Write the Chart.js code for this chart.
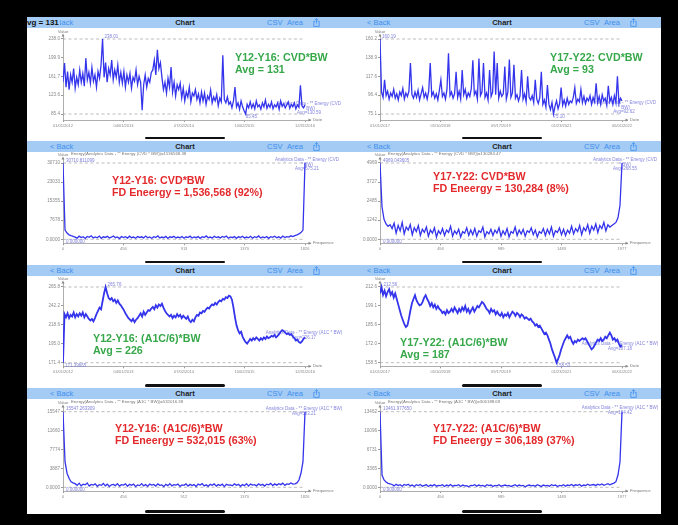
<!DOCTYPE html>
<html>
<head>
<meta charset="utf-8">
<script src="https://cdn.jsdelivr.net/npm/chart.js@4.4.1/dist/chart.umd.min.js"></script>
<style>
  body { margin: 0; width: 678px; height: 525px; background: #000; position: relative; overflow: hidden;
         font-family: "Liberation Sans", Arial, sans-serif; }
  #sheet { position: absolute; left: 27px; top: 17px; width: 634px; height: 497px; background: #fff; }
  .bar { position: absolute; left: 27px; width: 634px; height: 11px; background: #a3cbf3; }
  .bar span { position: absolute; top: 0; line-height: 11px; font-size: 7.5px; color: #3f8ff0; white-space: nowrap; }
  .bar span.ttl { color: #1d1d1d; font-weight: bold; transform: translateX(-50%); }
  .bar svg { position: absolute; top: 1px; }
  #cut { position: absolute; left: 27px; top: 17px; height: 11px; line-height: 11px; padding-right: 1px;
         background: #a3cbf3; font-size: 8px; font-weight: bold; color: #111; }
  .note { position: absolute; font-size: 10.7px; font-weight: bold; line-height: 12.3px; white-space: nowrap; }
  .home { position: absolute; width: 80px; height: 2.5px; border-radius: 2px; background: #111; }
  canvas { position: absolute; }
</style>
</head>
<body>
<div id="sheet"></div>
<div id="cut">vg = 131</div>
<script>
// ---------- tick labels ----------
const dates12 = ['01/01/2012', '04/01/2013', '07/02/2014', '10/02/2015', '12/31/2016'];
const dates17 = ['01/01/2017', '05/10/2018', '09/17/2019', '01/23/2021', '06/01/2022'];
const freq12a = ['0', '456', '913', '1370', '1826'];
const freq12b = ['0', '456', '912', '1370', '1826'];
const freq17 = ['0', '494', '989', '1483', '1977'];

const cvd12Ticks = ['238.0', '199.9', '161.7', '123.6', '85.4'];
const cvd17Ticks = ['160.2', '138.9', '117.6', '96.4', '75.1'];
const fdCvd12Ticks = ['30710', '23033', '15355', '7678', '0.0000'];
const fdCvd17Ticks = ['4969', '3727', '2485', '1242', '0.0000'];
const a1c12Ticks = ['265.8', '242.2', '218.6', '195.0', '171.4'];
const a1c17Ticks = ['212.6', '199.1', '185.6', '172.0', '158.5'];
const fdA1c12Ticks = ['15547', '11660', '7774', '3887', '0.0000'];
const fdA1c17Ticks = ['13462', '10096', '6731', '3365', '0.0000'];

// ---------- series ----------
const cvd12 = [150,189,140,172,135,165,150,178,138,160,
  145,175,150,168,142,199,155,170,148,180,152,165,140,172,158,
  185,238.01,160,190,150,178,165,195,155,175,160,185,150,170,
  148,172,140,165,150,168,138,160,152,175,145,162,150,
  93,
  145,165,140,158,150,170,
  175,195,165,216,178,190,
  160,135,150,128,158,140,181,130,150,122,145,135,148,
  118,138,112,130,120,140,110,128,122,135,115,126,108,130,
  112,128,105,122,115,134,108,120,112,125,102,118,110,205,115,108,120,105,
  110,98,112,140,100,108,95,112,100,92,85.45,105,98,
  110,98,106,96,112,100,104,95,108,100,114,97,105,99,110,96,104,100,108,95,
  112,101,106,98,104,110,97,105,100,108,96,104,99,144,102,98,104];

const cvd17 = [160.19,100,94,114,96,101,92,99,95,103,
  93,98,91,100,96,104,92,99,95,101,
  133,97,93,100,94,102,91,98,105,94,
  99,92,101,133,96,100,93,98,91,102,
  114,95,99,92,103,144,96,100,93,98,
  123,94,101,92,125,97,103,93,99,95,
  104,136,97,101,92,138,96,100,133,94,
  99,91,125,95,100,146,97,133,93,101,
  95,98,129,92,100,137,94,99,131,93,
  97,90,96,125,92,98,89,118,94,91,
  96,88,114,92,87,94,123,86,91,83,
  108,86,80,88,75.1,84,90,81,87,105,
  85,91,84,93,86,90,88,94,105,87,
  92,89,103,88,95,87,93,90,96,86,
  94,89,110,88,95,86,97,90,93,85,
  107,89,94,86,96,88,118,87,93,90];

const fdCvd12 = [30710.81,3700,2500,1800,1450,1200,
  900,450,1250,700,1050,350,1150,800,1400,550,
  950,600,1300,400,1000,750,1200,500,850,1350,
  650,950,300,1150,700,1050,500,1250,650,900,
  400,1100,750,1000,550,1300,600,950,450,1050,
  700,1400,500,900,650,1150,350,1000,750,1200,
  550,900,600,1150,450,1000,700,1250,500,950,
  650,1100,400,1050,750,1350,600,900,500,1200,
  700,1000,550,1150,800,1300,450,950,650,1100,
  400,1000,750,1250,550,900,600,1200,450,1050,
  700,1350,500,950,650,1150,400,1050,800,1250,
  600,1000,500,1300,700,1100,900,1400,1100,
  1500,1800,2200,2700,3700,30710.81];

const fdCvd17 = [4969.04,2100,1300,1000,850,950,
  700,1050,400,900,550,1100,350,800,600,950,
  300,750,500,900,250,650,450,800,200,600,
  400,750,150,550,350,700,250,600,450,850,
  200,550,350,650,150,500,400,750,250,600,
  300,700,200,550,450,800,150,500,350,650,
  250,600,400,750,200,550,300,700,150,500,
  400,800,250,600,350,650,200,550,450,750,
  300,600,150,500,400,700,250,650,350,800,
  200,550,450,750,300,650,250,600,400,850,
  350,700,500,900,300,750,550,950,400,850,
  600,1000,450,900,700,1100,550,950,800,
  900,1000,1100,1400,2200,4969.04];

const a1c12 = [171.39,
  232,228,233,227,231,229,234,228,232,
  229,233,230,234,228,232,229,226,
  224,226,223,227,232,
  236,240,238,
  248,258,265.76,
  258,252,250,
  252,248,250,246,249,245,
  243,240,237,233,230,227,225,
  223,226,222,225,227,
  230,233,229,235,231,234,237,236,
  239,241,238,243,240,244,242,
  245,240,236,233,231,
  229,231,227,230,228,232,229,231,227,230,
  228,226,229,224,222,225,223,
  228,231,230,234,233,236,235,238,240,239,242,244,243,
  246,244,247,249,248,251,250,253,252,255,254,
  250,240,228,218,212,208,210,
  204,200,197,195.2,198,
  201,199,202,200,203,201,199,202,200,203,201,204,202,
  203,205,204,206,203,205,207,
  210,212,211,
  209,207,208,206,207,
  204,202,199,200,197,196,198,
  201,203];

const a1c17 = [208,212.56,207,210,206,209,211,207,209,205,208,
  204,200,196,192,189,186,184,185,
  190,196,201,204,206.7,
  203,201,199.5,200,202,
  205,206.7,204,
  202,199,201,198,200,197,199,197,
  196,194,195,193,196,194,195,
  197,195,198,196,194,197,195,198,196,199,195,197,194,196,198,195,197,199,198,
  200,202,201,199,197,
  196,194,197,195,196,193,195,
  193,192,194,191,193,192,194,191,193,195,194,
  192,194,193,191,193,192,190,191,190,
  189,190,188,
  187,185,186,184,185,183,
  181,179,180,178,
  175,172,168,165,162,
  158.53,
  161,164,168,171,174,
  176,178,176,177,
  174,172,174,173,175,174,175,
  176,175,176,174,172,
  170,168,169,171,
  173,175,174,176,174,175,177,176,178,
  180,178,
  175,176,174,175,
  172,170,171];

const fdA1c12 = [15547.26,5260,2900,1850,1150,900,
  750,400,850,300,650,500,900,250,600,450,
  700,200,550,400,800,300,650,150,500,600,
  350,750,250,550,450,700,200,600,400,650,
  150,500,350,750,300,550,200,650,450,600,
  250,700,400,500,150,600,350,750,300,550,
  450,650,200,500,400,700,250,600,350,550,
  150,650,450,750,300,500,200,600,400,700,
  250,550,350,650,150,600,450,500,300,700,
  400,600,200,550,350,750,250,650,450,550,
  300,700,400,600,250,650,500,800,350,700,
  450,750,550,850,400,700,600,900,650,
  700,900,1500,2880,5260,15547.26];

const fdA1c17 = [13461.98,2190,1300,950,710,600,
  500,250,550,300,450,200,500,350,550,250,
  400,150,450,300,500,200,350,450,150,400,
  250,500,200,350,300,450,150,400,250,500,
  200,350,300,450,150,400,250,300,100,350,
  300,450,200,400,250,350,150,450,300,400,
  150,350,250,450,200,300,400,250,350,150,
  300,450,200,400,250,350,100,300,400,250,
  350,200,450,300,150,400,250,350,200,450,
  300,400,150,350,250,450,200,400,300,500,
  250,450,350,500,200,400,300,550,350,450,
  500,300,550,400,600,350,500,650,450,
  600,750,1000,2190,4500,13461.98];

// ---------- texts ----------
const legCvd = 'Analytics Data - ** Energy (CVD';
const legA1c = 'Analytics Data - ** Energy (A1C * BW)';
const GREEN = '#36a84a', RED = '#e3292b';

// ---------- layout ----------
const cols = [
  { x0: 27, left: 63, right: 310, end: 305 },
  { x0: 344, left: 380, right: 627, end: 622 }
];
const rows = [
  { bar: 17, top: 28, h: 113, pTop: 35, pBot: 120, yTop: 39, yBot: 114, home: 136.5 },
  { bar: 141, top: 152, h: 113, pTop: 158, pBot: 243.3, yTop: 163, yBot: 239.3, home: 260.5 },
  { bar: 265, top: 276, h: 112, pTop: 282, pBot: 366.3, yTop: 287, yBot: 362.7, home: 384 },
  { bar: 388, top: 399, h: 115, pTop: 406, pBot: 491, yTop: 411.7, yBot: 487.3, home: 510 }
];

const panels = [
  { row: 0, col: 0, values: cvd12, yTicks: cvd12Ticks, xTicks: dates12, axis: 'Date', lw: 1.3,
    maxText: '238.01', minText: '85.45', legend: [legCvd, '* BW)', 'Avg=130.59'], legDx: 4, legDy: -1,
    note: ['Y12-Y16: CVD*BW', 'Avg = 131'], color: GREEN, nx: 235, ny: 50.5 },
  { row: 0, col: 1, values: cvd17, yTicks: cvd17Ticks, xTicks: dates17, axis: 'Date', lw: 1.3,
    maxText: '160.19', minText: '75.10', legend: [legCvd, '* BW)', 'Avg=92.62'], legDx: 2, legDy: 2,
    note: ['Y17-Y22: CVD*BW', 'Avg = 93'], color: GREEN, nx: 550, ny: 50.5 },
  { row: 1, col: 0, values: fdCvd12, yTicks: fdCvd12Ticks, xTicks: freq12a, axis: 'Frequence', freq: true, lw: 1.3,
    title: 'Energy(Analytics Data - ** Energy (CVD * BW))=1536568.38',
    maxText: '30710.811099', minText: '0.000000', legend: [legCvd, '* BW)', 'Avg=575.21'], legDx: 2, legDy: -3,
    note: ['Y12-Y16: CVD*BW', 'FD Eneergy = 1,536,568 (92%)'], color: RED, nx: 112, ny: 174 },
  { row: 1, col: 1, values: fdCvd17, yTicks: fdCvd17Ticks, xTicks: freq17, axis: 'Frequence', freq: true, lw: 1.3,
    title: 'Energy(Analytics Data - ** Energy (CVD * BW))=130284.47',
    maxText: '4969.043605', minText: '0.000000', legend: [legCvd, '* BW)', 'Avg=268.55'], legDx: 3, legDy: -3,
    note: ['Y17-Y22: CVD*BW', 'FD Eneergy = 130,284 (8%)'], color: RED, nx: 433, ny: 170 },
  { row: 2, col: 0, values: a1c12, yTicks: a1c12Ticks, xTicks: dates12, axis: 'Date', lw: 1.8,
    maxText: '265.76', minText: '171.39665', legend: [legA1c, 'Avg=226.17'], legDx: -1, legDy: -4.5,
    note: ['Y12-Y16: (A1C/6)*BW', 'Avg = 226'], color: GREEN, nx: 93, ny: 332 },
  { row: 2, col: 1, values: a1c17, yTicks: a1c17Ticks, xTicks: dates17, axis: 'Date', lw: 1.8,
    maxText: '212.56', minText: '158.53', legend: [legA1c, 'Avg=187.18'], legDx: -2, legDy: -1.5,
    note: ['Y17-Y22: (A1C/6)*BW', 'Avg = 187'], color: GREEN, nx: 400, ny: 336 },
  { row: 3, col: 0, values: fdA1c12, yTicks: fdA1c12Ticks, xTicks: freq12b, axis: 'Frequence', freq: true, lw: 1.3,
    title: 'Energy(Analytics Data - ** Energy (A1C * BW))=532016.38',
    maxText: '15547.263309', minText: '0.000000', legend: [legA1c, 'Avg=583.21'], legDx: -1, legDy: -2.7,
    note: ['Y12-Y16: (A1C/6)*BW', 'FD Eneergy = 532,015 (63%)'], color: RED, nx: 115, ny: 421.5 },
  { row: 3, col: 1, values: fdA1c17, yTicks: fdA1c17Ticks, xTicks: freq17, axis: 'Frequence', freq: true, lw: 1.3,
    title: 'Energy(Analytics Data - ** Energy (A1C * BW))=306188.69',
    maxText: '13461.977650', minText: '0.000000', legend: [legA1c, 'Avg=154.42'], legDx: -2, legDy: -3.7,
    note: ['Y17-Y22: (A1C/6)*BW', 'FD Eneergy = 306,189 (37%)'], color: RED, nx: 433, ny: 421.5 }
];

Chart.defaults.font.family = '"Liberation Sans", Arial, sans-serif';

// header bars
const share = x => `<svg style="left:${x}px" width="7" height="9" viewBox="0 0 7 9"><path d="M2.3 3.4H0.8V8.4H6.2V3.4H4.7M3.5 0.7V5.6M1.9 2.2L3.5 0.7L5.1 2.2" fill="none" stroke="#3f8ff0" stroke-width="0.8"/></svg>`;
rows.forEach(r => {
  const bar = document.createElement('div');
  bar.className = 'bar';
  bar.style.top = r.bar + 'px';
  cols.forEach(c => {
    const o = c.x0 - 27;
    bar.insertAdjacentHTML('beforeend',
      `<span style="left:${o + 23}px">&lt; Back</span><span class="ttl" style="left:${o + 158}px">Chart</span>` +
      `<span style="left:${o + 240}px">CSV</span><span style="left:${o + 260}px">Area</span>` + share(o + 286));
    const home = document.createElement('div');
    home.className = 'home';
    home.style.left = (c.x0 + 118) + 'px';
    home.style.top = r.home + 'px';
    document.body.appendChild(home);
  });
  document.body.insertBefore(bar, document.getElementById('cut'));
});

function makeDeco(p, xEnd) {
  const small = '4.5px "Liberation Sans", Arial, sans-serif';
  return {
    id: 'deco',
    beforeDatasetsDraw(chart) {
      const { ctx, scales: { x, y } } = chart;
      const n = p.values.length;
      const lx = x.getPixelForValue(xEnd) + p.legDx;
      const ly = y.getPixelForValue(p.values[n - 1]) + p.legDy;
      ctx.save();
      ctx.font = small;
      ctx.fillStyle = '#8585de';
      ctx.textAlign = 'center';
      ctx.textBaseline = 'middle';
      p.legend.forEach((t, i) => ctx.fillText(t, lx, ly + i * 4.6));
      ctx.restore();
    },
    afterDatasetsDraw(chart) {
      const { ctx, chartArea: a, scales: { x, y } } = chart;
      ctx.save();
      ctx.font = '4.3px "Liberation Sans", Arial, sans-serif';
      ctx.fillStyle = '#777';
      ctx.textBaseline = 'middle';
      ctx.textAlign = 'center';
      ctx.fillText('Value', a.left, a.top - 3.5);
      if (p.title) {
        ctx.textAlign = 'left';
        ctx.fillText(p.title, a.left + 8, a.top - 4);
      }
      // axis arrows
      ctx.fillStyle = '#888';
      ctx.beginPath();
      ctx.moveTo(a.left - 1.5, a.top + 1.5); ctx.lineTo(a.left + 1.5, a.top + 1.5); ctx.lineTo(a.left, a.top - 1.5);
      ctx.fill();
      ctx.beginPath();
      ctx.moveTo(a.right - 1.5, a.bottom - 1.5); ctx.lineTo(a.right - 1.5, a.bottom + 1.5); ctx.lineTo(a.right + 1.5, a.bottom);
      ctx.fill();
      ctx.fillStyle = '#777';
      ctx.textAlign = 'left';
      ctx.fillText(p.axis, a.right + 3, a.bottom - 0.5);
      // max / min labels
      const vals = p.values;
      const hi = Math.max(...vals), lo = Math.min(...vals);
      const iHi = vals.indexOf(hi), iLo = vals.indexOf(lo);
      const step = xEnd / (vals.length - 1);
      const yv = p.yTicks.map(Number);
      ctx.font = small;
      ctx.fillStyle = '#8080dc';
      const mx = x.getPixelForValue(iHi * step), my = y.getPixelForValue(hi);
      ctx.fillText(p.maxText, mx + (p.freq ? 3 : 2), my - 2.5);
      if (p.freq) {
        ctx.fillText(p.minText, x.getPixelForValue(0) + 3, y.getPixelForValue(yv[4]) + 2.5);
      } else {
        ctx.fillText(p.minText, x.getPixelForValue(iLo * step) + (iLo === 0 ? 2 : 0), y.getPixelForValue(lo) + 3);
      }
      ctx.restore();
    }
  };
}

panels.forEach((p, k) => {
  const c = cols[p.col], r = rows[p.row];
  const cv = document.createElement('canvas');
  cv.width = 317; cv.height = r.h;
  cv.style.left = c.x0 + 'px'; cv.style.top = r.top + 'px';
  cv.style.width = '317px'; cv.style.height = r.h + 'px';
  document.body.insertBefore(cv, document.getElementById('cut'));

  const yv = p.yTicks.map(Number);
  const per = (yv[0] - yv[4]) / (r.yBot - r.yTop);
  const yMax = yv[0] + (r.yTop - r.pTop) * per;
  const yMin = yv[4] - (r.pBot - r.yBot) * per;
  const n = p.values.length;
  const xEnd = p.freq ? Number(p.xTicks[4]) : n - 1;
  const pts = p.values.map((v, i) => ({ x: i * xEnd / (n - 1), y: v }));
  const xv = p.freq ? p.xTicks.map(Number) : p.xTicks.map((t, i) => xEnd * i / 4);
  const xMax = xEnd * (c.right - c.left) / (c.end - c.left);
  const dash = v => ({ data: [{ x: 0, y: v }, { x: xEnd, y: v }], borderColor: '#a0a0a0',
    borderWidth: 0.7, borderDash: [3, 2.5], pointRadius: 0 });

  new Chart(cv, {
    type: 'line',
    data: {
      datasets: [
        { data: pts, borderColor: '#3434ec', borderWidth: p.lw, pointRadius: 0, tension: 0 },
        dash(yv[0]),
        dash(yv[4])
      ]
    },
    options: {
      responsive: false,
      animation: false,
      events: [],
      layout: { padding: { top: r.pTop - r.top, right: c.x0 + 317 - c.right, left: 0, bottom: 0 } },
      scales: {
        x: {
          type: 'linear', min: 0, max: xMax,
          afterFit: s => { s.height = r.top + r.h - r.pBot; },
          afterBuildTicks: s => { s.ticks = xv.map(v => ({ value: v })); },
          ticks: { callback: (v, i) => p.xTicks[i], autoSkip: false, maxRotation: 0,
                   font: { size: 4 }, color: '#888', padding: 1 },
          grid: { drawOnChartArea: false, tickLength: 2, color: '#999' },
          border: { color: '#999', width: 0.8 }
        },
        y: {
          min: yMin, max: yMax,
          afterFit: s => { s.width = c.left - c.x0; },
          afterBuildTicks: s => { s.ticks = yv.map(v => ({ value: v })); },
          ticks: { callback: (v, i) => p.yTicks[i], font: { size: 4.6 }, color: '#888', padding: 1 },
          grid: { drawOnChartArea: false, tickLength: 2, color: '#999' },
          border: { color: '#999', width: 0.8 }
        }
      },
      plugins: { legend: { display: false }, tooltip: { enabled: false } }
    },
    plugins: [makeDeco(p, xEnd)]
  });

  const note = document.createElement('div');
  note.className = 'note';
  note.style.left = p.nx + 'px';
  note.style.top = p.ny + 'px';
  note.style.color = p.color;
  note.innerHTML = p.note.join('<br>');
  document.body.appendChild(note);
});
</script>
</body>
</html>
